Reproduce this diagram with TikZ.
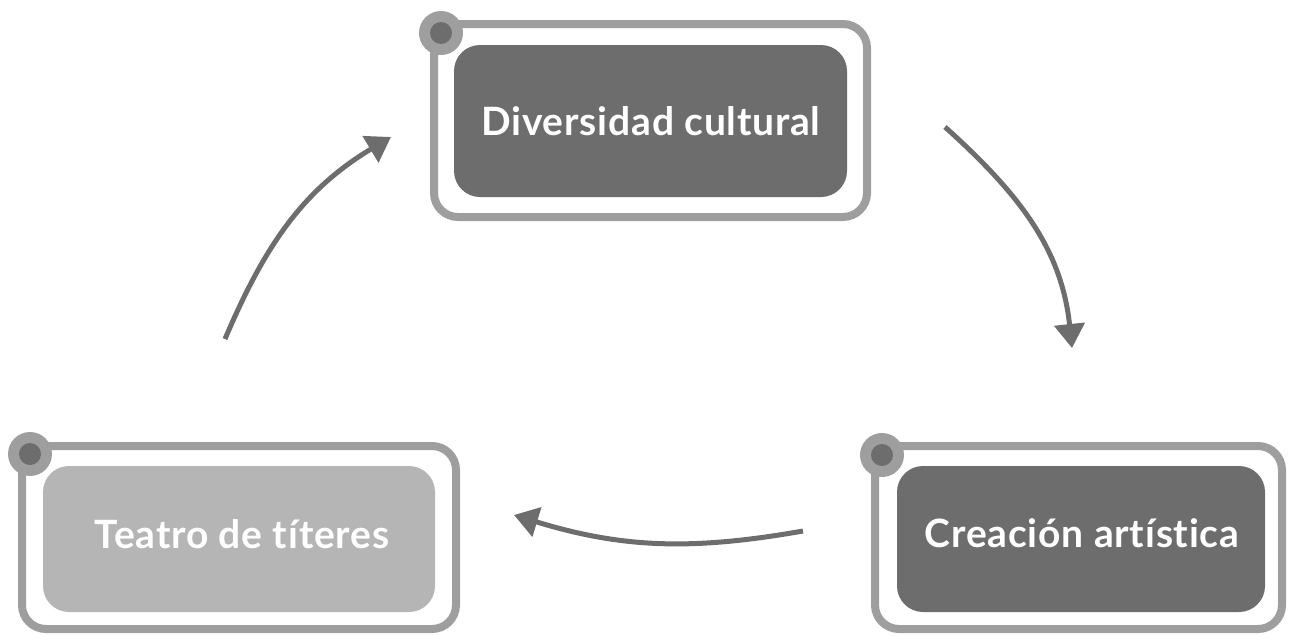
\documentclass[tikz,border=0pt]{standalone}
\usepackage{fontspec}
\setmainfont{Lato}[Ligatures={NoCommon,NoRequired,NoContextual},LetterSpace=2]
\usetikzlibrary{arrows.meta}
\definecolor{framegray}{HTML}{9E9E9E}
\definecolor{darkbox}{HTML}{6D6D6D}
\definecolor{lightbox}{HTML}{B5B5B5}
\tikzset{
  frame/.style={draw=framegray, line width=8pt, rounded corners=24pt, fill=white, inner sep=0pt},
  inbox/.style={rounded corners=26pt, inner sep=0pt},
  boxtext/.style={anchor=base, inner sep=0pt, text=white, font=\fontsize{39}{44}\selectfont\bfseries},
  dotouter/.style={circle, fill=framegray, minimum size=44pt, inner sep=0pt},
  dotinner/.style={circle, fill=darkbox, minimum size=22pt, inner sep=0pt},
  flow/.style={draw=darkbox, line width=5pt, -{Triangle[length=24pt,width=30pt]}}
}
\begin{document}
\begin{tikzpicture}[x=1pt,y=1pt]
\useasboundingbox (0,0) rectangle (1289,-635);
% frames
\node[frame, minimum width=433pt, minimum height=193pt] (f1) at (650.5,-120.5) {};
\node[frame, minimum width=434pt, minimum height=183pt] (f2) at (239,-537.5) {};
\node[frame, minimum width=407pt, minimum height=183pt] (f3) at (1078.5,-537.5) {};
% inner boxes
\node[inbox, fill=darkbox, minimum width=393pt, minimum height=152pt] (b1) at (650.5,-121) {};
\node[inbox, fill=lightbox, minimum width=392pt, minimum height=146pt] (b2) at (239,-539) {};
\node[inbox, fill=darkbox, minimum width=368pt, minimum height=146pt] (b3) at (1081,-539) {};
% texts
\node[boxtext] (t1) at (651,-135) {Diversidad cultural};
\node[boxtext] (t2) at (242,-548) {Teatro de títeres};
\node[boxtext] (t3) at (1082,-547) {Creación artística};
% dots
\node[dotouter] (d1o) at (441,-33) {};
\node[dotinner] (d1i) at (d1o) {};
\node[dotouter] (d2o) at (30,-454) {};
\node[dotinner] (d2i) at (d2o) {};
\node[dotouter] (d3o) at (882,-455) {};
\node[dotinner] (d3i) at (d3o) {};
% arrow endpoints
\coordinate (a1s) at (945,-127);
\coordinate (a1e) at (1072,-348);
\coordinate (a2s) at (803,-531);
\coordinate (a2e) at (514,-515);
\coordinate (a3s) at (225,-339);
\coordinate (a3e) at (391,-137);
\draw[flow] (a1s) to[out=-42, in=96] (a1e);
\draw[flow] (a2s) to[out=190, in=-17] (a2e);
\draw[flow] (a3s) to[out=67, in=211] (a3e);
\end{tikzpicture}
\end{document}
